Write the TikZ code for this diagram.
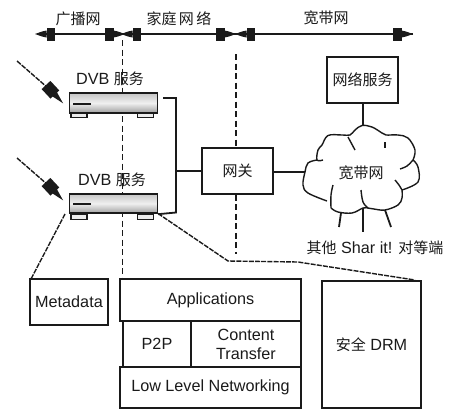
\documentclass[tikz,border=0pt]{standalone}
\usepackage{fontspec}
\setmainfont{Liberation Sans}
\newfontfamily\cjkf{Noto Sans CJK SC}
\newcommand{\cjk}{\fontsize{15}{17}\selectfont\cjkf}
\definecolor{ink}{HTML}{1A1A1A}
\tikzset{
  lab/.style={inner sep=0pt,text=ink,font=\fontsize{16.2}{18}\selectfont,align=center},
  boxn/.style={draw=ink,line width=1.8pt,rectangle,inner sep=0pt,text=ink,font=\fontsize{16.2}{18}\selectfont,align=center},
  wire/.style={draw=ink,line width=1.8pt},
  dashline/.style={draw=ink,line width=1.6pt,dash pattern=on 6pt off 3.5pt},
  dotline/.style={draw=ink,line width=1.4pt,dash pattern=on 5pt off 1.2pt},
  cloudl/.style={draw=ink,line width=1.4pt,smooth,tension=0.6},
  stb/.style={draw=ink,line width=1.8pt,rectangle,minimum width=88pt,minimum height=19.5pt,inner sep=0pt,top color=gray!45,bottom color=gray!75,middle color=gray!12},
  foot/.style={draw=ink,line width=1.1pt,rectangle,minimum width=16pt,minimum height=5pt,inner sep=0pt,fill=gray!15},
  pics/blocktip/.style={code={
    \fill[ink] (0,-6.5) rectangle (8.5,6.5);
    \fill[ink] (8.5,-3.5) -- (13,-2.5) -- (20,0) -- (13,2.5) -- (8.5,3.5) -- cycle;}},
  pics/wavetip/.style={code={
    \fill[ink] (0,-6) -- (13,-6) -- (13,-3) -- (25,0) -- (13,3) -- (13,6) -- (0,6) -- cycle;}}
}
\begin{document}
\begin{tikzpicture}[x=1pt,y=-1pt]
\useasboundingbox (0,0) rectangle (450,416);
% top rule
\coordinate (ta) at (40,34); \coordinate (tb) at (413,34);
\draw[wire] (ta) -- (tb);
\pic[rotate=180] at (55,34) {blocktip};
\pic at (105,34) {blocktip};
\pic[rotate=180] at (141,34) {blocktip};
\pic at (216,34) {blocktip};
\pic[rotate=180] at (255,34) {blocktip};
\pic at (393,34) {blocktip};
\node[lab] (h1) at (78,19) {\cjk 广播网};
\node[lab] (h2) at (179,19) {\cjk 家庭\,网\,络};
\node[lab] (h3) at (326,18) {\cjk 宽带网};
% dashed dividers
\coordinate (d1) at (122.5,40); \coordinate (d2) at (122.5,279);
\coordinate (e1) at (236,54); \coordinate (e2) at (236,254);
\draw[dashline] (d1) -- (d2);
\node[boxn,fill=white,minimum width=71pt,minimum height=46pt] (gw) at (237.5,171) {\cjk 网关};
\draw[dashline] (e1) -- (gw.north -| e1);
\draw[dashline] (gw.south -| e2) -- (e2);
% set-top boxes
\node[foot] (f1a) at (79,115) {};
\node[foot] (f1b) at (145.5,115) {};
\node[foot] (f2a) at (79,217) {};
\node[foot] (f2b) at (145.5,217) {};
\node[stb] (s1) at (113.5,103) {};
\node[stb] (s2) at (113.5,203.5) {};
\coordinate (s1m) at (73,103.5); \coordinate (s1n) at (91,103.5);
\coordinate (s2m) at (73,203.5); \coordinate (s2n) at (91,203.5);
\draw[ink,line width=2pt] (s1m) -- (s1n);
\draw[ink,line width=2pt] (s2m) -- (s2n);
\node[lab] (l1) at (110,79) {DVB {\cjk 服务}};
\node[lab] (l2) at (112,180) {DVB {\cjk 服务}};
% incoming signals
\coordinate (w1) at (17,61); \coordinate (w1e) at (48,88);
\coordinate (w2) at (17,158); \coordinate (w2e) at (48,185);
\draw[dotline] (w1) -- (w1e);
\draw[dotline] (w2) -- (w2e);
\pic[rotate=-47] at (46,85) {wavetip};
\pic[rotate=-47] at (46,182) {wavetip};
% bus to gateway
\coordinate (b1) at (163,98); \coordinate (b2) at (176,98);
\coordinate (b3) at (176,212.5); \coordinate (b4) at (176,171);
\draw[wire] (b1) -- (b2) -- (b3) -- (s2.south east);
\draw[wire] (b4) -- (gw.west |- b4);
\coordinate (c0) at (305,172);
\draw[wire] (gw.east |- c0) -- (c0);
% network service
\node[boxn,minimum width=71pt,minimum height=46pt] (ns) at (362.5,80) {\cjk 网络服务};
\coordinate (c1) at (363,126);
\draw[wire] (ns.south -| c1) -- (c1);
% cloud outline: open lobes
\draw[cloudl] plot coordinates {(323,160) (317,160) (318,150) (322,145) (328,135.5) (342,135) (350,135) (355,130) (362,125.5) (372,127) (382,133) (386,135) (398,135) (408,138) (415,150) (413,160)};
\draw[cloudl] plot coordinates {(400,169) (407,166) (413,160)};
\draw[cloudl] plot coordinates {(413,160) (418,167) (418,182) (402,190)};
\draw[cloudl] plot coordinates {(395,180) (399,185) (402,190)};
\draw[cloudl] plot coordinates {(402,190) (402,198) (398,205) (385,210) (374,209) (368,208)};
\draw[cloudl] plot coordinates {(361,190) (363,202) (368,208)};
\draw[cloudl] plot coordinates {(368,208) (363,208) (352,213) (338,212) (331,208)};
\draw[cloudl] plot coordinates {(331,208) (331,195) (333,185)};
\draw[cloudl] plot coordinates {(327,201) (308,193) (303,185) (305,172) (308,163) (317,160)};
\draw[cloudl] plot coordinates {(348,137) (355,150)};
\draw[cloudl] plot coordinates {(385,142) (385,148)};
\node[lab] (c2) at (361,173) {\cjk 宽带网};
% legs
\coordinate (p1a) at (341,213); \coordinate (p1b) at (339,227);
\coordinate (p2a) at (363,208); \coordinate (p2b) at (363,232);
\coordinate (p3a) at (385,210); \coordinate (p3b) at (391,227);
\draw[wire] (p1a) -- (p1b);
\draw[wire] (p2a) -- (p2b);
\draw[wire] (p3a) -- (p3b);
\node[lab] (peers) at (375,248) {{\cjk 其他} Shar it! {\cjk 对等端}};
% lower boxes
\node[boxn,minimum width=78pt,minimum height=46pt] (meta) at (69,302) {Metadata};
\node[boxn,minimum width=181pt,minimum height=42pt] (app) at (210.5,300) {Applications};
\node[boxn,minimum width=68pt,minimum height=46pt] (p2p) at (157,344) {P2P};
\node[boxn,minimum width=110pt,minimum height=46pt] (ct) at (246,344) {Content\\[1pt]Transfer};
\node[boxn,minimum width=181pt,minimum height=41pt] (low) at (210.5,387.5) {Low Level Networking};
\node[boxn,minimum width=99pt,minimum height=127pt] (drm) at (371.5,344.5) {{\cjk 安全} DRM};
% dotted links from the lower set-top box
\coordinate (k1) at (65,214); \coordinate (k2) at (31,279);
\coordinate (m1) at (158,213.5); \coordinate (m2) at (228,261);
\coordinate (m3) at (298,262); \coordinate (m4) at (415,280);
\draw[dotline] (k1) -- (k2);
\draw[dotline] (m1) -- (m2) -- (m3) -- (m4);
\end{tikzpicture}
\end{document}
